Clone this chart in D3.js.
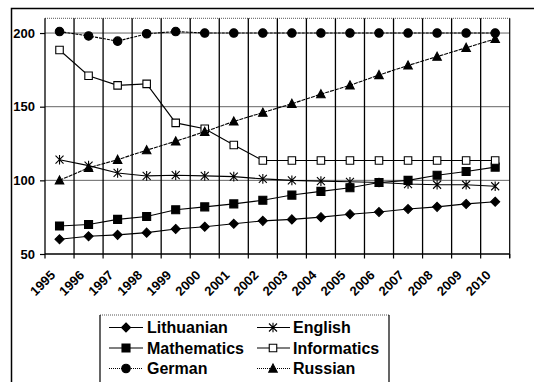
<!DOCTYPE html>
<html>
<head>
<meta charset="utf-8">
<script src="https://cdn.jsdelivr.net/npm/d3@7"></script>
<style>
  html, body { margin: 0; padding: 0; background: #fff; }
  svg { display: block; font-family: "Liberation Sans", Arial, sans-serif; }
</style>
</head>
<body>
<svg id="chart" width="534" height="382"></svg>
<script>
// Categories and series values
const years = ["1995","1996","1997","1998","1999","2000","2001","2002","2003","2004","2005","2006","2007","2008","2009","2010"];
const lithuanian  = [60, 62, 63, 64.5, 67, 68.5, 70.5, 72.5, 73.5, 75, 77, 78.5, 80.5, 82, 84, 85.5];
const mathematics = [69, 70, 73.5, 75.5, 80, 82, 84, 86.5, 90, 92.5, 95, 98.5, 100, 103.5, 106, 109];
const german      = [201, 198, 194.5, 199.5, 201, 200, 200, 200, 200, 200, 200, 200, 200, 200, 200, 200];
const english     = [114, 110, 105, 103, 103.5, 103, 102.5, 101, 100, 99.5, 99, 98.5, 97.5, 97, 97, 96];
const informatics = [188.5, 171, 164.5, 165.5, 139, 135, 124, 113.5, 113.5, 113.5, 113.5, 113.5, 113.5, 113.5, 113.5, 113.5];
const russian     = [100, 108.5, 114, 120.5, 126.5, 133, 140, 146, 152, 158.5, 164.5, 171.5, 178, 184, 190, 196];
const yTicks = [50, 100, 150, 200];

// Marker shapes
const diamond = { draw(c, s) { const r = Math.sqrt(s) / 2; c.moveTo(0, -r); c.lineTo(r, 0); c.lineTo(0, r); c.lineTo(-r, 0); c.closePath(); } };
const square  = { draw(c, s) { const r = Math.sqrt(s) / 2; c.rect(-r, -r, 2 * r, 2 * r); } };
const circle  = { draw(c, s) { const r = Math.sqrt(s) / 2; c.moveTo(r, 0); c.arc(0, 0, r, 0, 2 * Math.PI); } };
const triangle = { draw(c, s) { const r = Math.sqrt(s) / 2; c.moveTo(0, -r * 1.05); c.lineTo(r, r * 0.85); c.lineTo(-r, r * 0.85); c.closePath(); } };
const star = { draw(c, s) { const r = Math.sqrt(s) / 2; c.moveTo(-r, -r); c.lineTo(r, r); c.moveTo(r, -r); c.lineTo(-r, r); c.moveTo(0, -r * 1.2); c.lineTo(0, r * 1.2); } };

const series = [
  { name: "Lithuanian",  values: lithuanian,  shape: diamond,  size: 9,   fill: "#000", dash: null },
  { name: "English",     values: english,     shape: star,     size: 8,   fill: "none", dash: null },
  { name: "Mathematics", values: mathematics, shape: square,   size: 8,   fill: "#000", dash: null },
  { name: "Informatics", values: informatics, shape: square,   size: 7.5, fill: "#fff", dash: null },
  { name: "German",      values: german,      shape: circle,   size: 8.5, fill: "#000", dash: "3,1" },
  { name: "Russian",     values: russian,     shape: triangle, size: 8.5, fill: "#000", dash: "4,1" }
];

const svg = d3.select("#chart");
svg.append("rect").attr("width", 534).attr("height", 382).attr("fill", "#fff");

// Outer chart frame
svg.append("path").attr("d", "M11.5,382V8.5H534").attr("fill", "none").attr("stroke", "#000").attr("stroke-width", 1.5);

const plotLeft = 45, plotRight = 509.7, plotTop = 18.3, plotBottom = 254;
const x = d3.scaleBand().domain(years).range([plotLeft, plotRight]).padding(0);
const y = d3.scaleLinear().domain([50, 210]).range([plotBottom, plotTop]);
const cx = d => x(d) + x.bandwidth() / 2;

// Horizontal gridlines
svg.append("g").selectAll("line").data(yTicks.filter(v => v > 50)).join("line")
  .attr("x1", plotLeft).attr("x2", plotRight).attr("y1", d => y(d)).attr("y2", d => y(d))
  .attr("stroke", "#666").attr("stroke-width", 1);
// Top border of plot area (dotted)
svg.append("line").attr("x1", plotLeft).attr("x2", plotRight).attr("y1", plotTop).attr("y2", plotTop)
  .attr("stroke", "#555").attr("stroke-dasharray", "1,1");

// Vertical gridlines between categories
const bounds = years.slice(1).map(d => x(d));
svg.append("g").selectAll("line").data(bounds).join("line")
  .attr("x1", d => d).attr("x2", d => d).attr("y1", plotTop).attr("y2", plotBottom)
  .attr("stroke", "#000").attr("stroke-width", 1.3);
// Right border
svg.append("line").attr("x1", plotRight).attr("x2", plotRight).attr("y1", plotTop).attr("y2", plotBottom + 4)
  .attr("stroke", "#000").attr("stroke-width", 1.2);

// Y axis
const yAxis = svg.append("g").attr("transform", `translate(${plotLeft},0)`)
  .call(d3.axisLeft(y).tickValues(yTicks).tickSize(5).tickPadding(5).tickFormat(d3.format("d")));
yAxis.select(".domain").attr("stroke", "#000").attr("stroke-width", 1.3).attr("d", `M0,${plotTop}V${plotBottom}`);
yAxis.selectAll(".tick line").attr("stroke", "#000").attr("stroke-width", 1.2);
yAxis.selectAll("text").attr("font-size", 13).attr("font-weight", "bold").attr("fill", "#000")
  .attr("font-family", "'Liberation Sans', Arial, sans-serif");

// X axis: line, tick marks at category boundaries, rotated labels
svg.append("line").attr("x1", plotLeft).attr("x2", plotRight).attr("y1", plotBottom).attr("y2", plotBottom)
  .attr("stroke", "#000").attr("stroke-width", 1.3);
svg.append("g").selectAll("line").data([plotLeft, ...bounds, plotRight]).join("line")
  .attr("x1", d => d).attr("x2", d => d).attr("y1", plotBottom).attr("y2", plotBottom + 4.5)
  .attr("stroke", "#000").attr("stroke-width", 1.2);
svg.append("g").selectAll("text").data(years).join("text")
  .attr("transform", d => `translate(${cx(d) - 3.5},${plotBottom + 22}) rotate(-45)`)
  .attr("text-anchor", "end")
  .attr("font-size", 13).attr("font-weight", "bold").attr("fill", "#000")
  .text(d => d);

// Series lines and markers
const line = d3.line().x((v, i) => cx(years[i])).y(v => y(v));
const sym = d3.symbol();
series.forEach(s => {
  svg.append("path").datum(s.values).attr("d", line)
    .attr("fill", "none").attr("stroke", "#000").attr("stroke-width", 1.1)
    .attr("stroke-dasharray", s.dash);
  svg.append("g").selectAll("path").data(s.values).join("path")
    .attr("transform", (v, i) => `translate(${cx(years[i])},${y(v)})`)
    .attr("d", sym.type(s.shape).size(s.size * s.size))
    .attr("fill", s.fill).attr("stroke", "#000").attr("stroke-width", 1.1);
});

// Legend
const lg = svg.append("g");
lg.append("line").attr("x1", 100).attr("x2", 389).attr("y1", 315).attr("y2", 315)
  .attr("stroke", "#555").attr("stroke-dasharray", "1,1");
lg.append("path").attr("d", "M100,315V382M389,315V382").attr("stroke", "#000").attr("stroke-width", 1.2).attr("fill", "none");
const rowsY = [327.5, 348, 368.5];
const cols = [{ l1: 109, l2: 143, m: 126, t: 147 }, { l1: 257, l2: 290, m: 273, t: 293 }];
series.forEach((s, i) => {
  const c = cols[i % 2], ry = rowsY[Math.floor(i / 2)];
  lg.append("line").attr("x1", c.l1).attr("x2", c.l2).attr("y1", ry).attr("y2", ry)
    .attr("stroke", "#000").attr("stroke-width", 1.1).attr("stroke-dasharray", s.dash ? "1,1" : null);
  lg.append("path").attr("transform", `translate(${c.m},${ry})`)
    .attr("d", sym.type(s.shape).size(s.size * s.size))
    .attr("fill", s.fill).attr("stroke", "#000").attr("stroke-width", 1.1);
  lg.append("text").attr("x", c.t).attr("y", ry).attr("dy", "0.36em")
    .attr("font-size", 16).attr("font-weight", "bold").attr("fill", "#000")
    .text(s.name);
});
</script>
</body>
</html>
